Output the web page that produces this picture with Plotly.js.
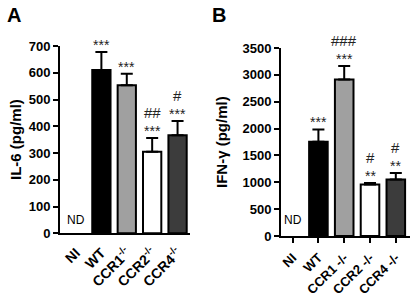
<!DOCTYPE html>
<html><head><meta charset="utf-8">
<script src="https://cdn.plot.ly/plotly-3.0.1.min.js"></script>
<style>html,body{margin:0;padding:0;background:#fff}#c{width:413px;height:297px}</style>
</head><body><div id="c"></div>
<script>
const groups = ['NI','WT','CCR1','CCR2','CCR4'];
const ticksA = ['NI','WT','CCR1<sup>-/-</sup>','CCR2<sup>-/-</sup>','CCR4<sup>-/-</sup>'];
const ticksB = ['NI','WT','CCR1 -/-','CCR2 -/-','CCR4 -/-'];
const il6 = [null, 610, 553, 305, 366];
const il6Err = [0, 68, 43, 51, 54];
const ifng = [null, 1755, 2915, 960, 1050];
const ifngErr = [0, 230, 250, 25, 125];
const starsA = ['', '***', '***', '***', '***'];
const hashA = ['', '', '', '##', '#'];
const starsB = ['', '***', '***', '**', '**'];
const hashB = ['', '', '###', '#', '#'];
const colors = ['#ffffff', '#000000', '#a0a0a0', '#ffffff', '#3c3c3c'];

const F = 'Liberation Sans, Arial, sans-serif';
const xs = groups.map((g,i)=>i);

function barTrace(vals, errs, xa, ya){
  return {type:'bar', x: xs, y: vals, xaxis: xa, yaxis: ya, width: 0.72,
    marker:{color: colors, line:{color:'#000', width:2}},
    error_y:{type:'data', symmetric:false, array: errs, arrayminus: errs.map(()=>0),
      color:'#000', thickness:2, width:6},
    hoverinfo:'skip', showlegend:false};
}

const ann = [];
function addAnn(vals, errs, stars, hashes, xr, yr, starShift, hashShift){
  vals.forEach((v,i)=>{
    if(v==null) return;
    const top = v + errs[i];
    if(stars[i]) ann.push({x:i, y:top, xref:xr, yref:yr, text:stars[i], showarrow:false,
      yanchor:'bottom', yshift:starShift, font:{family:F, size:14, color:'#222'}});
    if(hashes[i]) ann.push({x:i, y:top, xref:xr, yref:yr, text:hashes[i], showarrow:false,
      yanchor:'bottom', yshift:hashShift, font:{family:F, size:15, color:'#222'}});
  });
}
addAnn(il6, il6Err, starsA, hashA, 'x', 'y', -3, 15);
addAnn(ifng, ifngErr, starsB, hashB, 'x2', 'y2', -3, 15);

ann.push({x:0, y:0, xref:'x', yref:'y', text:'ND', showarrow:false, yanchor:'bottom', yshift:4,
  font:{family:F, size:12, color:'#000'}});
ann.push({x:0, y:0, xref:'x2', yref:'y2', text:'ND', showarrow:false, yanchor:'bottom', yshift:7,
  font:{family:F, size:12, color:'#000'}});
ann.push({x:14/413, y:1-15/297, xref:'paper', yref:'paper', text:'<b>A</b>', showarrow:false,
  xanchor:'center', yanchor:'middle', font:{family:F, size:20, color:'#000'}});
ann.push({x:219/413, y:1-15/297, xref:'paper', yref:'paper', text:'<b>B</b>', showarrow:false,
  xanchor:'center', yanchor:'middle', font:{family:F, size:20, color:'#000'}});
ann.push({x:15/413, y:1-140/297, xref:'paper', yref:'paper', text:'<b>IL-6 (pg/ml)</b>', textangle:-90,
  xanchor:'center', yanchor:'middle', showarrow:false, font:{family:F, size:15, color:'#000'}});
ann.push({x:221/413, y:1-142/297, xref:'paper', yref:'paper', text:'<b>IFN-γ (pg/ml)</b>', textangle:-90,
  xanchor:'center', yanchor:'middle', showarrow:false, font:{family:F, size:15, color:'#000'}});

const xBase = {tickmode:'array', tickvals: xs, tickangle:-45, showline:true, linewidth:2, linecolor:'#000',
  zeroline:false, showgrid:false, fixedrange:true,
  tickfont:{family:F, size:14, color:'#000', weight:'bold'}};
const yBase = {showline:true, linewidth:2, linecolor:'#000', ticks:'outside', ticklen:5, tickwidth:2,
  tickcolor:'#000', zeroline:false, showgrid:false, fixedrange:true,
  tickfont:{family:F, size:13, color:'#000', weight:'bold'}};

const layout = {
  width:413, height:297, margin:{l:0,r:0,t:0,b:0}, paper_bgcolor:'#fff', plot_bgcolor:'rgba(0,0,0,0)',
  showlegend:false, bargap:0,
  xaxis: Object.assign({}, xBase, {domain:[60/413, 190/413], range:[-0.63, 4.49], ticktext: ticksA,
    ticks:'', anchor:'y', ticklabelstandoff:4}),
  yaxis: Object.assign({}, yBase, {domain:[63.7/297, 251/297], range:[0,700], dtick:100, anchor:'x'}),
  xaxis2: Object.assign({}, xBase, {domain:[281/413, 410/413], range:[-0.45, 4.55], ticktext: ticksB,
    ticks:'outside', ticklen:5, tickwidth:2, tickcolor:'#000', anchor:'y2', ticklabelstandoff:2,
    tickfont:{family:F, size:13, color:'#000', weight:'bold'}}),
  yaxis2: Object.assign({}, yBase, {domain:[61/297, 249/297], range:[0,3500], dtick:500, anchor:'x2'}),
  annotations: ann
};

Plotly.newPlot('c', [barTrace(il6, il6Err, 'x', 'y'), barTrace(ifng, ifngErr, 'x2', 'y2')], layout,
  {staticPlot:true, displayModeBar:false});
</script></body></html>
